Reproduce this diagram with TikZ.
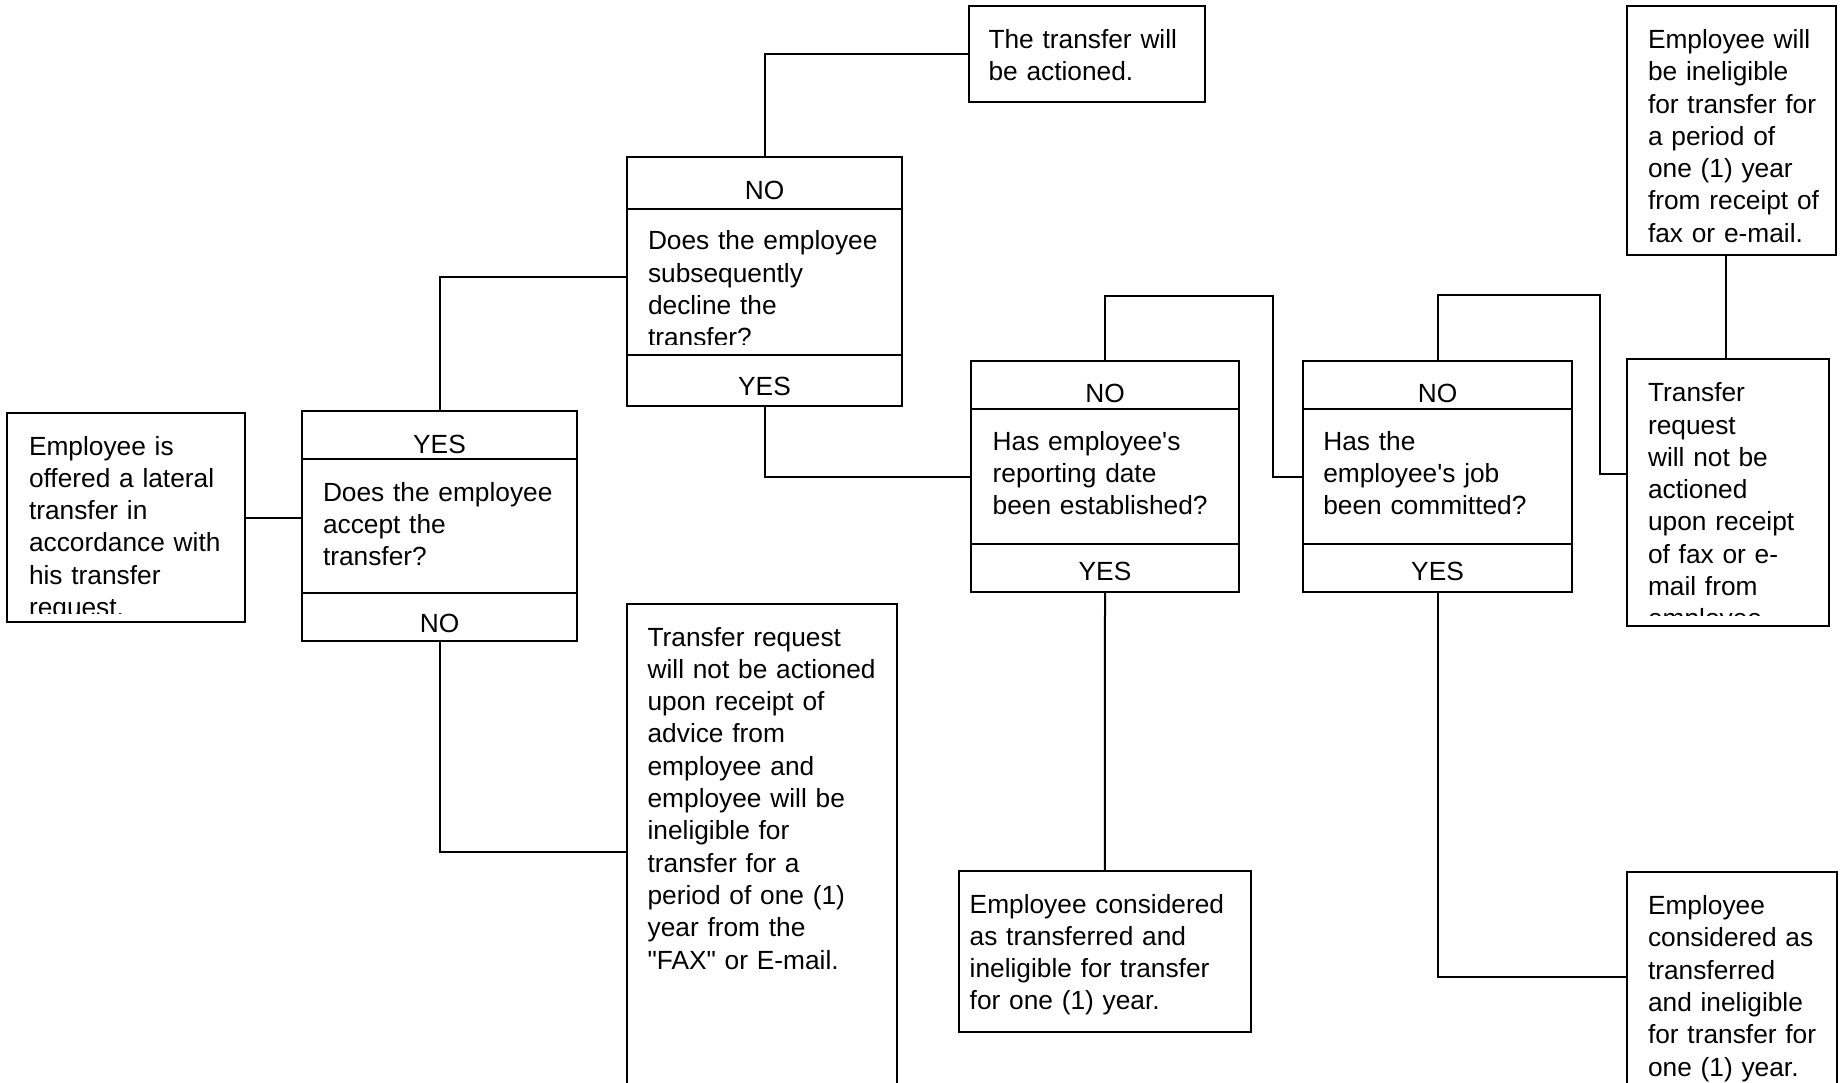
\documentclass[tikz,border=0pt]{standalone}
\usepackage{fontspec}
\setmainfont{Liberation Sans}[Ligatures=TeXOff]
\begin{document}
\begin{tikzpicture}[x=1pt,y=-1pt,
  box/.style={draw, line width=2pt, inner sep=0pt, outer sep=0pt, rectangle, anchor=north west},
  txt/.style={inner sep=0pt, outer sep=0pt, align=left, text width=330pt, anchor=base west, font=\fontsize{26.3}{32.3}\selectfont},
  lbl/.style={inner sep=0pt, outer sep=0pt, anchor=base, font=\fontsize{26.3}{32.3}\selectfont},
  conn/.style={line width=2pt}]
\clip (0,0) rectangle (1843,1083);
\fill[white] (0,0) rectangle (1843,1083);

% boxes
\node[box, minimum width=238pt, minimum height=209pt] (a) at (7,413) {};
\node[box, minimum width=275pt, minimum height=230pt] (q1) at (302,411) {};
\node[box, minimum width=275pt, minimum height=249pt] (q2) at (627,157) {};
\node[box, minimum width=268pt, minimum height=231pt] (q3) at (971,361) {};
\node[box, minimum width=269pt, minimum height=231pt] (q4) at (1303,361) {};
\node[box, minimum width=236pt, minimum height=96pt] (t1) at (968.5,6) {};
\node[box, minimum width=209pt, minimum height=249pt] (tr1) at (1627,6) {};
\node[box, minimum width=202pt, minimum height=267pt] (tr2) at (1627,359) {};
\node[box, minimum width=270pt, minimum height=520pt] (b1) at (626.5,604) {};
\node[box, minimum width=291.6pt, minimum height=161pt] (b2) at (959,871) {};
\node[box, minimum width=210pt, minimum height=260pt] (b3) at (1627,872) {};

% dividers
\draw[conn] ([yshift=-48pt]q1.north west) -- ([yshift=-48pt]q1.north east);
\draw[conn] ([yshift=48pt]q1.south west) -- ([yshift=48pt]q1.south east);
\draw[conn] ([yshift=-52pt]q2.north west) -- ([yshift=-52pt]q2.north east);
\draw[conn] ([yshift=51pt]q2.south west) -- ([yshift=51pt]q2.south east);
\draw[conn] ([yshift=-48pt]q3.north west) -- ([yshift=-48pt]q3.north east);
\draw[conn] ([yshift=48.5pt]q3.south west) -- ([yshift=48.5pt]q3.south east);
\draw[conn] ([yshift=-48pt]q4.north west) -- ([yshift=-48pt]q4.north east);
\draw[conn] ([yshift=48pt]q4.south west) -- ([yshift=48pt]q4.south east);

% header / footer labels
\node[lbl] (q1h) at ([yshift=-42pt]q1.north) {YES};
\node[lbl] (q1f) at ([yshift=9pt]q1.south) {NO};
\node[lbl] (q2h) at ([yshift=-42.5pt]q2.north) {NO};
\node[lbl] (q2f) at ([yshift=11pt]q2.south) {YES};
\node[lbl] (q3h) at ([yshift=-41pt]q3.north) {NO};
\node[lbl] (q3f) at ([yshift=11.5pt]q3.south) {YES};
\node[lbl] (q4h) at ([yshift=-41pt]q4.north) {NO};
\node[lbl] (q4f) at ([yshift=12pt]q4.south) {YES};

% texts
\begin{scope}
\clip (7,413) rectangle (245,613);
\node[txt] (ta) at (29,455) {Employee is\\offered a lateral\\transfer in\\accordance with\\his transfer\\request.};
\end{scope}
\node[txt] (q1t) at (323,501) {Does the employee\\accept the\\transfer?};
\begin{scope}
\clip (627,209) rectangle (902,344);
\node[txt] (q2t) at (648,250) {Does the employee\\subsequently\\decline the\\transfer?};
\end{scope}
\node[txt] (q3t) at (992.7,450) {Has employee's\\reporting date\\been established?};
\node[txt] (q4t) at (1323.3,450) {Has the\\employee's job\\been committed?};
\node[txt] (t1t) at (988.5,48.5) {The transfer will\\be actioned.};
\node[txt] (tr1t) at (1648,48.5) {Employee will\\be ineligible\\for transfer for\\a period of\\one (1) year\\from receipt of\\fax or e-mail.};
\begin{scope}
\clip (1627,359) rectangle (1829,615);
\node[txt] (tr2t) at (1648,401.7) {Transfer\\request\\will not be\\actioned\\upon receipt\\of fax or e-\\mail from\\employee.};
\end{scope}
\node[txt] (b1t) at (647.6,646) {Transfer request\\will not be actioned\\upon receipt of\\advice from\\employee and\\employee will be\\ineligible for\\transfer for a\\period of one (1)\\year from the\\"FAX" or E-mail.};
\node[txt] (b2t) at (969.7,913) {Employee considered\\as transferred and\\ineligible for transfer\\for one (1) year.};
\node[txt] (b3t) at (1648,914.5) {Employee\\considered as\\transferred\\and ineligible\\for transfer for\\one (1) year.};

% helper coordinates
\coordinate (c1) at (0,277);
\coordinate (c2) at (1273,296);
\coordinate (c3) at (1600,295);
\coordinate (c4) at (0,474);
\coordinate (c5) at (1726,0);
\coordinate (c6) at (0,852);
\coordinate (c7) at (0,977);

% connectors
\draw[conn] (a.east) -- (a.east -| q1.west);
\draw[conn] (q1.north) |- (q2.west |- c1);
\draw[conn] (q2.north) |- (t1.west);
\draw[conn] (q2.south) |- (q3.west);
\draw[conn] (q3.north) |- (c2) |- (q4.west);
\draw[conn] (q4.north) |- (c3) |- (tr2.west |- c4);
\draw[conn] (tr1.south -| c5) -- (tr2.north -| c5);
\draw[conn] (q1.south) |- (b1.west |- c6);
\draw[conn] (q3.south) -- (b2.north);
\draw[conn] (q4.south) |- (b3.west |- c7);
\end{tikzpicture}
\end{document}
